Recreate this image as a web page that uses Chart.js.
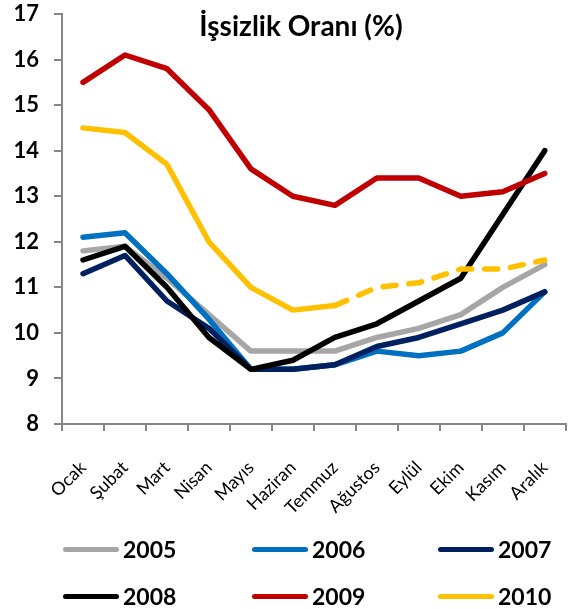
<!DOCTYPE html>
<html>
<head>
<meta charset="utf-8">
<script src="https://cdn.jsdelivr.net/npm/chart.js@4/dist/chart.umd.min.js"></script>
<style>
    body { margin: 0; background: #fff; }
    #wrap { position: relative; width: 586px; height: 609px; }
    #chart { position: absolute; left: 0; top: 0; }
    #legend { position: absolute; left: 0; top: 0; width: 586px; height: 609px; pointer-events: none; }
    .item { position: absolute; display: flex; align-items: center; font: bold 23px Lato, sans-serif; color: #000; }
    .item .line { width: 56px; height: 5px; border-radius: 3px; margin-right: 4px; }
</style>
</head>
<body>
<div id="wrap">
    <canvas id="chart" width="586" height="520"></canvas>
    <div id="legend"></div>
</div>
<script>
const months = ['Ocak', 'Şubat', 'Mart', 'Nisan', 'Mayıs', 'Haziran', 'Temmuz', 'Ağustos', 'Eylül', 'Ekim', 'Kasım', 'Aralık'];
const years = ['2005', '2006', '2007', '2008', '2009', '2010'];

const rate2005 = [11.8, 11.9, 11.2, 10.4, 9.6, 9.6, 9.6, 9.9, 10.1, 10.4, 11.0, 11.5];
const rate2006 = [12.1, 12.2, 11.3, 10.3, 9.2, 9.2, 9.3, 9.6, 9.5, 9.6, 10.0, 10.9];
const rate2007 = [11.3, 11.7, 10.7, 10.1, 9.2, 9.2, 9.3, 9.7, 9.9, 10.2, 10.5, 10.9];
const rate2008 = [11.6, 11.9, 11.0, 9.9, 9.2, 9.4, 9.9, 10.2, 10.7, 11.2, 12.6, 14.0];
const rate2009 = [15.5, 16.1, 15.8, 14.9, 13.6, 13.0, 12.8, 13.4, 13.4, 13.0, 13.1, 13.5];
const rate2010 = [14.5, 14.4, 13.7, 12.0, 11.0, 10.5, 10.6, 11.0, 11.1, 11.4, 11.4, 11.6];

// 2010: months after Temmuz are estimates (dashed)
const lastActual2010 = 6;

const yTicks = [8, 9, 10, 11, 12, 13, 14, 15, 16, 17];
const title = 'İşsizlik Oranı (%)';

const colors = ['#A6A6A6', '#0070C0', '#002060', '#000000', '#C00000', '#FFC000'];
const series = [rate2005, rate2006, rate2007, rate2008, rate2009, rate2010];

const datasets = series.map((data, i) => ({
    label: years[i],
    data: data,
    borderColor: colors[i],
    backgroundColor: colors[i],
    borderWidth: 5.5,
    pointRadius: 0,
    tension: 0,
    borderJoinStyle: 'round',
    borderCapStyle: 'round',
    order: series.length - i,
    segment: i === 5 ? {
        borderDash: ctx => ctx.p0DataIndex >= lastActual2010 ? [13, 13] : undefined
    } : undefined
}));

const titlePlugin = {
    id: 'innerTitle',
    afterDraw(chart) {
        const ctx = chart.ctx;
        ctx.save();
        ctx.font = 'bold 28px Lato, sans-serif';
        ctx.fillStyle = '#000';
        ctx.textAlign = 'center';
        ctx.textBaseline = 'alphabetic';
        ctx.fillText(title, 301, 36);
        ctx.restore();
    }
};

new Chart(document.getElementById('chart'), {
    type: 'line',
    data: { labels: months, datasets: datasets },
    options: {
        responsive: false,
        animation: false,
        layout: { padding: 0 },
        plugins: { legend: { display: false }, tooltip: { enabled: false } },
        scales: {
            x: {
                offset: true,
                grid: { offset: true, drawOnChartArea: false, tickLength: 7, color: '#868686', lineWidth: 2 },
                border: { color: '#868686', width: 2 },
                ticks: {
                    minRotation: 45, maxRotation: 45, autoSkip: false, padding: 26,
                    color: '#000', font: { family: 'Lato', size: 18 }
                },
                afterFit(scale) { scale.height = 96; }
            },
            y: {
                min: 8, max: 17,
                afterBuildTicks(scale) { scale.ticks = yTicks.map(v => ({ value: v })); },
                grid: { drawOnChartArea: false, tickLength: 8, color: '#868686', lineWidth: 2 },
                border: { color: '#868686', width: 2 },
                ticks: {
                    padding: 15, color: '#000',
                    font: { family: 'Lato', size: 22, weight: 'bold' }
                },
                afterFit(scale) {
                    scale.width = 62;
                    scale.paddingTop = 14;
                    scale.paddingBottom = 0;
                }
            }
        }
    },
    plugins: [titlePlugin]
});

// legend, 3 per row
const legendPos = [[63, 549], [252, 549], [438, 549], [63, 596], [252, 596], [438, 596]];
const legend = document.getElementById('legend');
years.forEach((y, i) => {
    const item = document.createElement('div');
    item.className = 'item';
    item.style.left = legendPos[i][0] + 'px';
    item.style.top = (legendPos[i][1] - 14) + 'px';
    item.style.height = '28px';
    item.innerHTML = `<span class="line" style="background:${colors[i]}"></span><span>${y}</span>`;
    legend.appendChild(item);
});
</script>
</body>
</html>
